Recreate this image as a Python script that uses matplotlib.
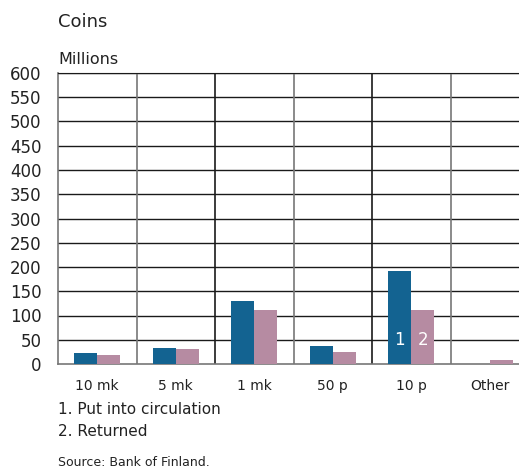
import matplotlib
matplotlib.use("Agg")
import matplotlib.pyplot as plt
import numpy as np

categories = ["10 mk", "5 mk", "1 mk", "50 p", "10 p", "Other"]
put_into_circulation = [23, 34, 130, 38, 192, 0]
returned = [19, 31, 112, 25, 112, 9]
y_ticks = list(range(0, 601, 50))

BLUE = "#136391"
PINK = "#b68ba2"
plt.rcParams['font.family'] = ['DejaVu Sans']

W, H = 519, 471
fig = plt.figure(figsize=(W / 100, H / 100), dpi=100)
left, right, bottom, top = 58, 529, 364, 73
ax = fig.add_axes([left / W, (H - bottom) / H, (right - left) / W, (bottom - top) / H])

x = np.arange(len(categories))
bw = 0.29
ax.bar(x - bw / 2, put_into_circulation, bw, color=BLUE, zorder=3)
ax.bar(x + bw / 2, returned, bw, color=PINK, zorder=3)

ax.set_xlim(-0.5, len(categories) - 0.5)
ax.set_ylim(0, 600)
ax.set_yticks(y_ticks)
ax.set_yticklabels([str(v) for v in y_ticks], fontsize=12, color="#222222")
ax.set_xticks(x)
ax.set_xticklabels(categories, fontsize=10, color="#222222")
ax.tick_params(axis='both', length=0)
ax.tick_params(axis='y', pad=12)
ax.tick_params(axis='x', pad=11)

for v in y_ticks[1:]:
    ax.axhline(v, color="#1a1a1a", lw=1.0, zorder=1)
for i in range(1, len(categories)):
    ax.axvline(i - 0.5, color="#777777" if i % 2 == 1 else "#1a1a1a", lw=1.2, zorder=1)

for s in ["right"]:
    ax.spines[s].set_visible(False)
ax.spines["top"].set_color("#1a1a1a")
ax.spines["left"].set_color("#777777")
ax.spines["bottom"].set_color("#777777")
ax.spines["left"].set_linewidth(1.2)
ax.spines["bottom"].set_linewidth(1.2)

# inside labels
i10 = categories.index("10 p")
ax.text(i10 - bw / 2, 50, "1", color="white", ha="center", va="center", fontsize=12, zorder=4)
ax.text(i10 + bw / 2, 50, "2", color="white", ha="center", va="center", fontsize=12, zorder=4)

fig.text(58 / W, 1 - 22 / H, "Coins", fontsize=13, color="#222222", ha="left", va="center")
fig.text(58 / W, 1 - 60 / H, "Millions", fontsize=11.5, color="#222222", ha="left", va="center")
fig.text(58 / W, 1 - 409 / H, "1. Put into circulation", fontsize=11, color="#222222", ha="left", va="center")
fig.text(58 / W, 1 - 431 / H, "2. Returned", fontsize=11, color="#222222", ha="left", va="center")
fig.text(58 / W, 1 - 463 / H, "Source: Bank of Finland.", fontsize=9, color="#222222", ha="left", va="center")

fig.savefig("out.png", dpi=100)
